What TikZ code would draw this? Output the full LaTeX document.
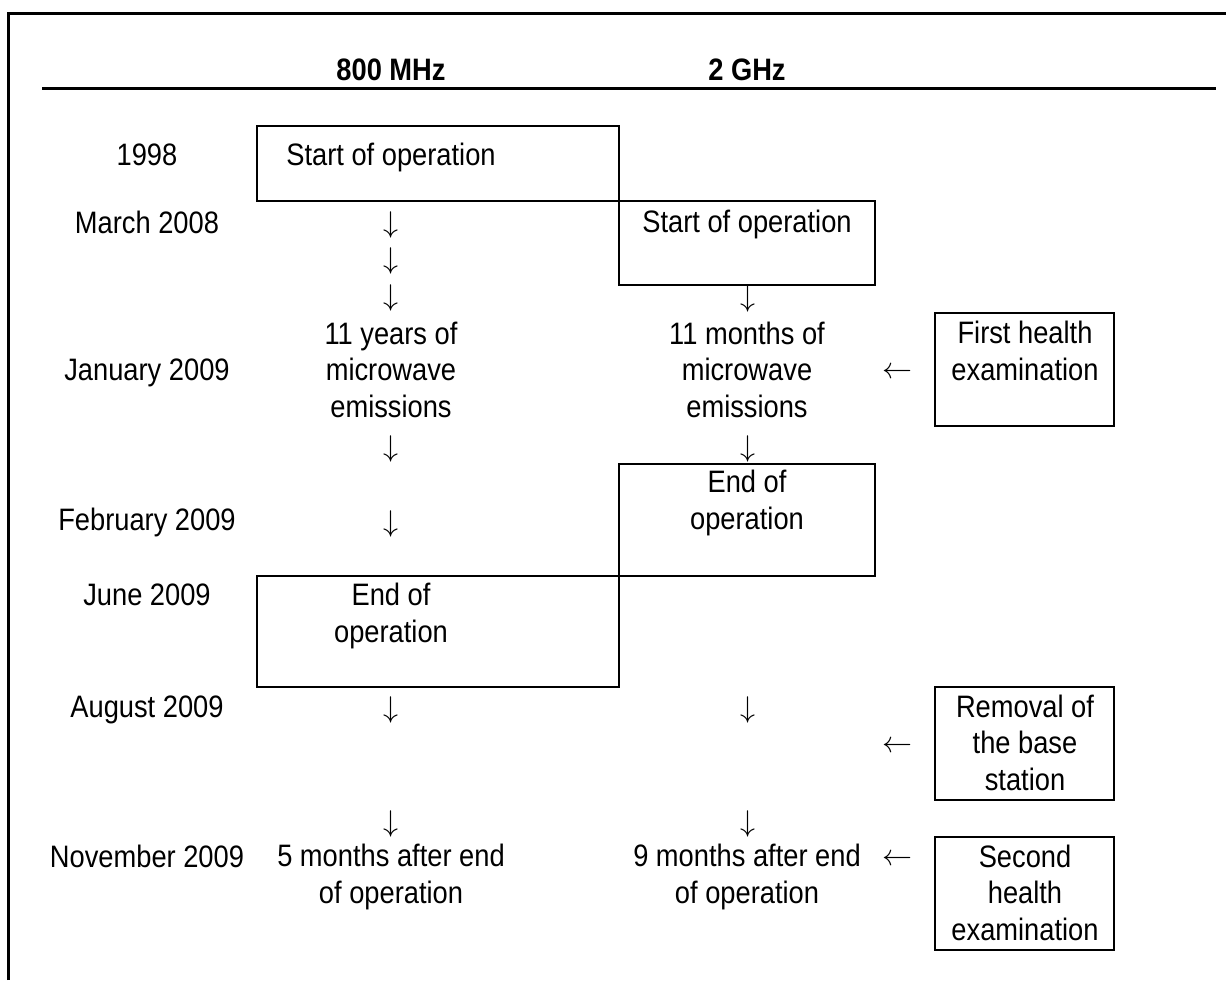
\documentclass[tikz,border=0pt]{standalone}
\usepackage{fontspec}
\setmainfont{Liberation Sans}[FakeStretch=0.88]
\usetikzlibrary{fit}

\tikzset{
  txt/.style={align=center, anchor=base, inner sep=0pt, font=\fontsize{12.4}{14.6}\selectfont},
  head/.style={txt, font=\fontsize{12.4}{14.6}\selectfont\bfseries},
  cell/.style={draw, line width=0.6pt, inner sep=0pt},
  dn/.style={inner sep=0pt, font=\fontsize{12}{14}\selectfont},
}

\begin{document}
\begin{tikzpicture}[x=0.4pt,y=-0.4pt]
  \useasboundingbox (0,0) rectangle (1226,980);
  % frame and header rule
  \draw[line width=1.2pt] (8,980) -- (8,13) -- (1226,13);
  \draw[line width=1.2pt] (42,88) -- (1216,88);
  \node[head] (h800) at (391,80) {800 MHz};
  \node[head] (h2g)  at (747,80) {2 GHz};

  % dates
  \foreach \y/\d [count=\i] in {165/1998, 233/March 2008, 380/January 2009,
      530/February 2009, 605/June 2009, 717/August 2009, 867/November 2009}
    \node[txt] (date\i) at (147,\y) {\d};

  % boxes
  \node[cell, fit={(257,126) (619,201)}] (startA) {};
  \node[cell, fit={(619,201) (875,285)}] (startB) {};
  \node[cell, fit={(619,464) (875,576)}] (endB) {};
  \node[cell, fit={(257,576) (619,687)}] (endA) {};
  \node[cell, fit={(935,313) (1114,426)}] (exam1) {};
  \node[cell, fit={(935,687) (1114,800)}] (removal) {};
  \node[cell, fit={(935,837) (1114,950)}] (exam2) {};

  % 800 MHz column (base = last line)
  \node[txt] (tStartA) at (391,165) {Start of operation};
  \node[txt] (tYears) at (391,417) {11 years of\\microwave\\emissions};
  \node[txt] (tEndA) at (391,642) {End of\\operation};
  \node[txt] (tAfterA) at (391,903) {5 months after end\\of operation};

  % 2 GHz column
  \node[txt] (tStartB) at (747,232) {Start of operation};
  \node[txt] (tMonths) at (747,417) {11 months of\\microwave\\emissions};
  \node[txt] (tEndB) at (747,529) {End of\\operation};
  \node[txt] (tAfterB) at (747,903) {9 months after end\\of operation};

  % right column
  \node[txt] (tExam1) at (1025,380) {First health\\examination};
  \node[txt] (tRemoval) at (1025,790) {Removal of\\the base\\station};
  \node[txt] (tExam2) at (1025,940) {Second\\health\\examination};

  % arrows
  \foreach \x/\y [count=\i] in {391/225, 391/261, 391/298, 391/449, 391/524,
      391/710, 391/824, 748/299, 748/449, 748/710, 748/824}
    \node[dn] (down\i) at (\x,\y) {$\downarrow$};
  \foreach \y [count=\i] in {373, 747, 860}
    \node[dn] (left\i) at (897,\y) {$\leftarrow$};
\end{tikzpicture}
\end{document}
